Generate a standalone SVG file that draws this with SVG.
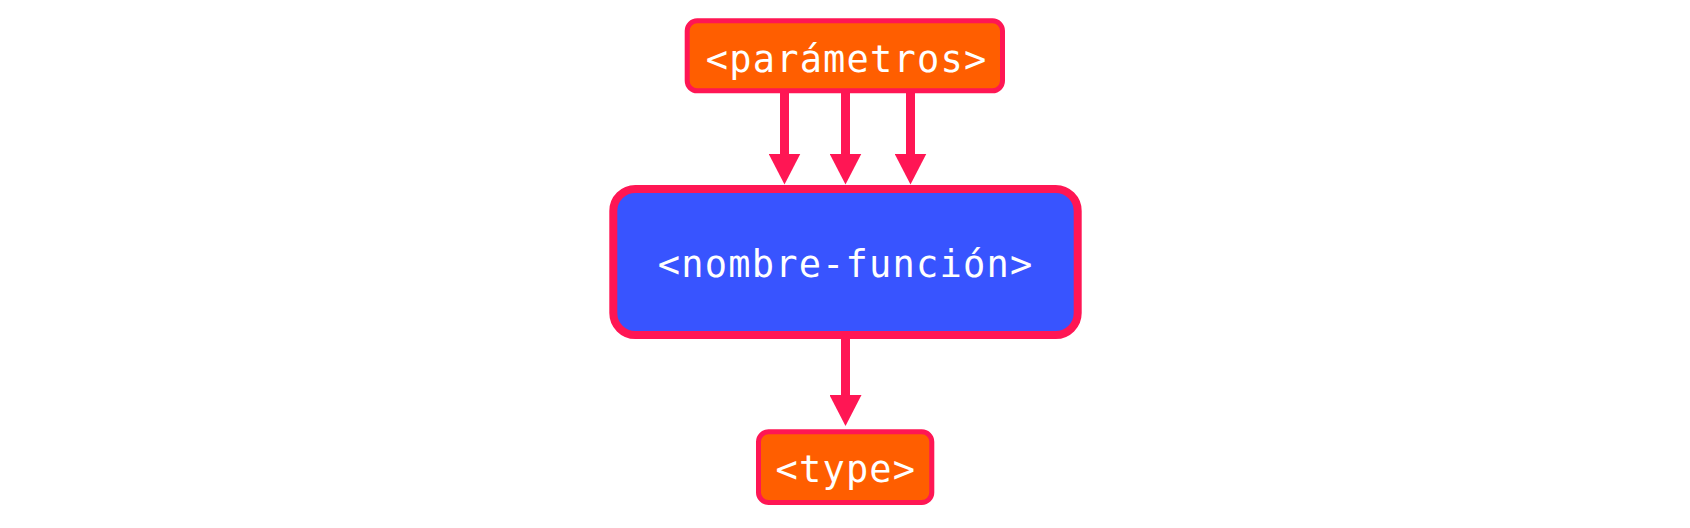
<svg xmlns="http://www.w3.org/2000/svg" width="1690" height="528" viewBox="0 0 1690 528">
  <style>
    .lbl { font-family: "DejaVu Sans Mono", "Liberation Mono", monospace; font-size: 37px; letter-spacing: 1.2px; fill: #ffffff; text-anchor: middle; }
    .orange { fill: #FF5E00; stroke: #FF1654; stroke-width: 5; }
    .blue { fill: #3854FF; stroke: #FF1654; stroke-width: 8; }
    .edge { stroke: #FF1654; stroke-width: 9; fill: none; marker-end: url(#head); }
  </style>
  <defs>
    <marker id="head" viewBox="0 0 31 32" markerWidth="31" markerHeight="32" refX="0.5" refY="16" orient="auto" markerUnits="userSpaceOnUse">
      <path d="M0,0 L31,16 L0,32 Z" fill="#FF1654"/>
    </marker>
  </defs>
  <rect width="1690" height="528" fill="#ffffff"/>
  <g id="connectors">
    <line class="edge" x1="784.5" y1="91" x2="784.5" y2="154"/>
    <line class="edge" x1="845.5" y1="91" x2="845.5" y2="154"/>
    <line class="edge" x1="910.5" y1="91" x2="910.5" y2="154"/>
    <line class="edge" x1="845.5" y1="335" x2="845.5" y2="395.5"/>
  </g>
  <g id="parametros">
    <rect class="orange" x="687.2" y="20.8" width="315.3" height="70" rx="10"/>
    <text class="lbl" x="846.6" y="71.7">&lt;parámetros&gt;</text>
  </g>
  <g id="nombre-funcion">
    <rect class="blue" x="613.3" y="189" width="464.4" height="146" rx="22"/>
    <text class="lbl" x="845.6" y="276.7">&lt;nombre-función&gt;</text>
  </g>
  <g id="type">
    <rect class="orange" x="758.5" y="431.8" width="173.3" height="70.7" rx="10"/>
    <text class="lbl" x="845.9" y="481.7">&lt;type&gt;</text>
  </g>
</svg>
